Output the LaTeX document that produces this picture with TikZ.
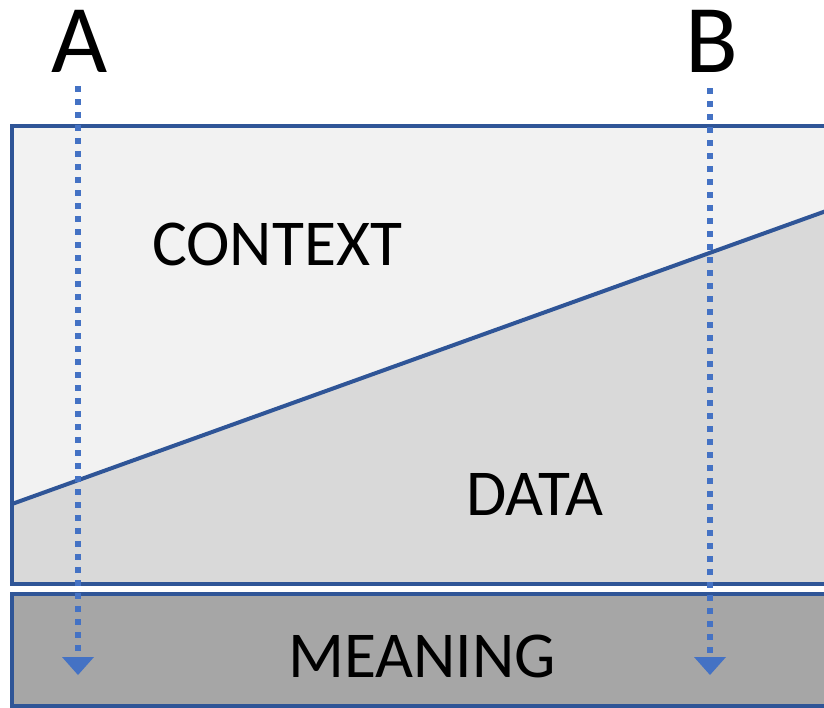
\documentclass[tikz,border=0pt]{standalone}
\usepackage{fontspec}
\setmainfont{Carlito}
\definecolor{edgeblue}{HTML}{2F5597}
\definecolor{flowblue}{HTML}{4472C4}
\definecolor{ctxfill}{HTML}{F2F2F2}
\definecolor{datafill}{HTML}{D9D9D9}
\definecolor{meanfill}{HTML}{A6A6A6}
\tikzset{
  frame/.style={draw=edgeblue, line width=4pt},
  flowline/.style={flowblue, line width=6pt, dash pattern=on 6pt off 7pt},
  flowhead/.style={fill=flowblue},
  biglabel/.style={font=\fontsize{97}{97}\selectfont, anchor=base, inner sep=0pt},
  arealabel/.style={font=\fontsize{65.5}{65.5}\selectfont, anchor=base, inner sep=0pt},
}
\begin{document}
\begin{tikzpicture}[x=1pt,y=-1pt]
\useasboundingbox (0,0) rectangle (824,707);
\fill[white] (0,0) rectangle (824,707);
\begin{scope}
\clip (0,0) rectangle (824,707);
% upper panel: context above, data below the rising line
\fill[ctxfill] (12,126) rectangle (840,584);
\fill[datafill] (12,504) -- (840,206) -- (840,584) -- (12,584) -- cycle;
\draw[edgeblue, line width=4pt] (12,504) -- (840,206);
\draw[frame] (12,126) rectangle (840,584);
% lower panel: meaning
\draw[frame, fill=meanfill] (12,594) rectangle (840,706);
\end{scope}

\node[arealabel] (ctx) at (277,265) {CONTEXT};
\node[arealabel] (dat) at (535,515) {DATA};
\node[arealabel] (mean) at (422,677) {MEANING};

\node[biglabel] (A) at (80,72) {A};
\node[biglabel] (B) at (712,72) {B};

% dotted flows from A and B down into meaning
\coordinate (aTop) at (78,86);
\coordinate (aEnd) at (78,657);
\coordinate (bTop) at (710,88);
\coordinate (bEnd) at (710,657);
\draw[flowline] (aTop) -- (aEnd);
\draw[flowline] (bTop) -- (bEnd);
\fill[flowhead] ([xshift=-16pt]aEnd) -- ([xshift=16pt]aEnd) -- ([yshift=-18pt]aEnd) -- cycle;
\fill[flowhead] ([xshift=-16pt]bEnd) -- ([xshift=16pt]bEnd) -- ([yshift=-18pt]bEnd) -- cycle;
\end{tikzpicture}
\end{document}
